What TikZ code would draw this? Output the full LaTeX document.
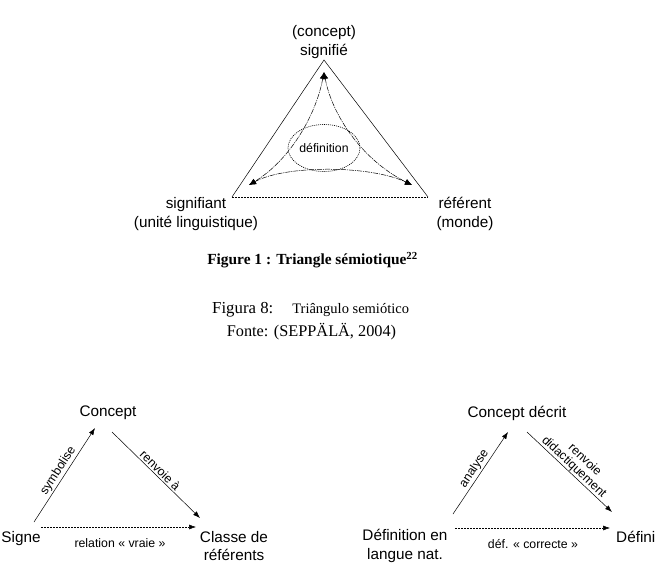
\documentclass[tikz,border=0pt]{standalone}
\usepackage{fontspec}
\setmainfont{Liberation Serif}
\setsansfont{Liberation Sans}
\usetikzlibrary{arrows.meta,shapes.geometric}
\begin{document}
\begin{tikzpicture}[x=1pt,y=1pt,
 lbl/.style={font=\sffamily\fontsize{15.3}{18.5}\selectfont, inner sep=0pt, align=center},
 small/.style={font=\sffamily\fontsize{12.3}{13}\selectfont, inner sep=1.5pt},
 arr/.style={-{Latex[length=7pt,width=5pt]}, line width=0.5pt},
 darr/.style={arr, dash pattern=on 2pt off 1pt},
 curv/.style={{Latex[length=7pt,width=6pt]}-{Latex[length=7pt,width=6pt]}, dash pattern=on 5pt off 1pt on 1pt off 1pt, line width=0.5pt},
 tri/.style={line width=0.5pt}]
\useasboundingbox (0,0) rectangle (657,-581);
% ---------- top triangle
\coordinate (A) at (324,-60);
\coordinate (B) at (232,-197);
\coordinate (C) at (428,-197);
\draw[tri] (B) -- (A) -- (C);
\draw[tri, dash pattern=on 2pt off 1pt] (B) -- (C);
\coordinate (ia) at (324,-72);
\coordinate (ib) at (249,-185);
\coordinate (ic) at (412,-185);
\draw[curv] (ia) .. controls (316,-115) and (290,-160) .. (ib);
\draw[curv] (ia) .. controls (332,-115) and (362,-160) .. (ic);
\draw[curv] (ib) .. controls (285,-165) and (370,-165) .. (ic);
\node[ellipse, draw, dash pattern=on 1pt off 1pt, line width=0.6pt, minimum width=72pt, minimum height=47pt, inner sep=0pt, font=\sffamily\fontsize{12.3}{14}\selectfont] (def) at (324,-148) {définition};
\node[lbl] (sig) at (324,-42) {(concept)\\signifié};
\node[lbl] (sgt) at (196,-214) {signifiant\\(unité linguistique)};
\node[lbl] (ref) at (465,-214) {référent\\(monde)};
% ---------- captions
\node[font=\bfseries\fontsize{15.4}{17}\selectfont, inner sep=0pt] (cap1) at (312.5,-260) {Figure 1 : Triangle sémiotique\textsuperscript{22}};
\node[font=\fontsize{16.8}{18}\selectfont, inner sep=0pt, anchor=west] (cap2) at (212,-310) {Figura 8:\hspace{19pt}{\fontsize{14.5}{16}\selectfont Triângulo semiótico}};
\node[font=\fontsize{16.3}{18}\selectfont, inner sep=0pt] (cap3) at (311.5,-332) {Fonte: (SEPPÄLÄ, 2004)};
% ---------- bottom left
\node[lbl] (con) at (108,-413) {Concept};
\node[lbl] (sgn) at (21,-539) {Signe};
\node[lbl] (cls) at (234,-546) {Classe de\\référents};
\coordinate (l1) at (34,-522);
\coordinate (l2) at (95,-428);
\coordinate (l3) at (112,-432);
\coordinate (l4) at (200,-518);
\coordinate (l5) at (41,-527);
\coordinate (l6) at (196,-527);
\draw[arr] (l1) -- node[small, sloped, above] {symbolise} (l2);
\draw[arr] (l3) -- node[small, sloped, above] {renvoie à} (l4);
\draw[darr] (l5) -- (l6);
\node[small] (rv) at (120,-543) {relation « vraie »};
% ---------- bottom right
\node[lbl] (cd) at (517,-413) {Concept décrit};
\node[lbl] (dl) at (405,-546) {Définition en\\langue nat.};
\node[lbl, anchor=west] (df) at (616,-537) {Défini};
\coordinate (r1) at (453,-514);
\coordinate (r2) at (508,-432);
\coordinate (r3) at (527,-432);
\coordinate (r4) at (612,-512);
\coordinate (r5) at (455,-528);
\coordinate (r6) at (610,-528);
\draw[arr] (r1) -- node[small, sloped, above] {analyse} (r2);
\draw[arr] (r3) -- node[sloped, above, align=center, inner sep=0.5pt, font=\sffamily\fontsize{12.3}{12.5}\selectfont] {\hspace*{6pt}renvoie\\didactiquement} (r4);
\draw[darr] (r5) -- (r6);
\node[small] (dc) at (533,-544) {déf. « correcte »};
\end{tikzpicture}
\end{document}
